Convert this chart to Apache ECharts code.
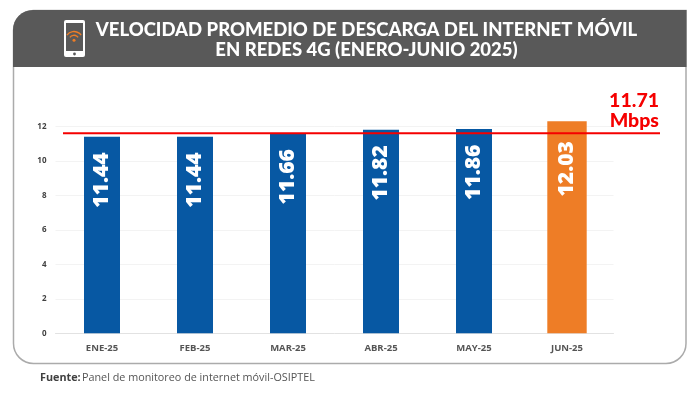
<!DOCTYPE html>
<html><head><meta charset="utf-8">
<style>html,body{margin:0;padding:0;background:#fff}#c{width:700px;height:395px}</style>
<script src="https://cdn.jsdelivr.net/npm/echarts@6/dist/echarts.min.js"></script>
</head><body><div id="c"></div>
<script>
const categories = ['ENE-25','FEB-25','MAR-25','ABR-25','MAY-25','JUN-25'];
const blueValues = [11.41, 11.41, 11.60, 11.82, 11.86, null];
const orangeValues = [null, null, null, null, null, 12.32];
const barLabels = ['11.44','11.44','11.66','11.82','11.86','12.03'];
const averageLevel = [11.62, 11.62];
const averageSpan = [0, 1];
const titleLines = 'VELOCIDAD PROMEDIO DE DESCARGA DEL INTERNET MÓVIL\nEN REDES 4G (ENERO-JUNIO 2025)';
const avgText = '11.71\nMbps';
const sourceBold = 'Fuente:';
const sourceText = 'Panel de monitoreo de internet móvil-OSIPTEL';
const FONT = 'Lato';
const barLabel = d => ({show:true, position:'insideTop', rotate:90, distance:d, align:'right', verticalAlign:'middle',
  color:'#fff', fontSize:21, fontWeight:800, fontFamily:'Open Sans',
  formatter:p=>barLabels[p.dataIndex]});
const chart = echarts.init(document.getElementById('c'), null, {renderer:'canvas'});
chart.setOption({
  animation:false,
  backgroundColor:'#fff',
  textStyle:{fontFamily:FONT},
  grid:[
    {left:55.5, right:86.5, top:126.7, bottom:61.7},
    {left:63, right:40, top:126.7, bottom:61.7}
  ],
  xAxis:[
    {type:'category', gridIndex:0, data:categories,
     axisTick:{show:false}, axisLine:{lineStyle:{color:'#e2e2e2',width:1}},
     axisLabel:{color:'#555',fontSize:9.5,fontWeight:'bold',margin:10,fontFamily:'Open Sans'}},
    {type:'value', gridIndex:1, min:0, max:1, show:false},
    {type:'category', gridIndex:0, data:categories, show:false}
  ],
  yAxis:[
    {type:'value', gridIndex:0, min:0, max:12, interval:2,
     axisLine:{show:false}, axisTick:{show:false},
     splitLine:{lineStyle:{color:'#f3f3f3',width:1}},
     axisLabel:{color:'#404040',fontSize:8,fontWeight:'bold',margin:9,fontFamily:'Open Sans'}},
    {type:'value', gridIndex:1, min:0, max:12, show:false}
  ],
  series:[
    {type:'bar', name:'Azul', xAxisIndex:0, yAxisIndex:0, clip:false, barWidth:36, z:2,
     data:blueValues, itemStyle:{color:'#0758A3'}, label:barLabel(15.5)},
    {type:'bar', name:'Naranja', xAxisIndex:2, yAxisIndex:0, clip:false, barWidth:39.4, z:2,
     data:orangeValues, itemStyle:{color:'#EE7D26'}, label:barLabel(20)},
    {type:'line', xAxisIndex:1, yAxisIndex:1, z:5, symbol:'none', silent:true,
     data:averageSpan.map((x,i)=>[x,averageLevel[i]]),
     lineStyle:{color:'#F50000',width:1.8}}
  ],
  graphic:[
    {type:'rect', z:-10, shape:{x:13.5,y:10.5,width:672.5,height:353,r:[20,0,20,20]},
     style:{fill:'#fff',stroke:'#ababab',lineWidth:1.5}},
    {type:'rect', z:-9, shape:{x:13,y:10,width:673.5,height:57,r:[20,0,0,0]}, style:{fill:'#595959'}},
    {type:'text', z:10, x:366.5, y:40.5, style:{text:titleLines,fill:'#fff',font:'900 18.5px '+FONT,
      align:'center',verticalAlign:'middle',lineHeight:20}},
    {type:'rect', z:10, shape:{x:64,y:20,width:21,height:37,r:2}, style:{fill:'#fff'}},
    {type:'rect', z:11, shape:{x:66,y:23,width:17,height:28}, style:{fill:'#595959'}},
    {type:'circle', z:11, shape:{cx:74.5,cy:54,r:1.4}, style:{fill:'#595959'}},
    {type:'circle', z:12, shape:{cx:74,cy:40.3,r:1.5}, style:{fill:'#EE7D26'}},
    {type:'arc', z:12, shape:{cx:74,cy:40.3,r:5,startAngle:-Math.PI*0.8,endAngle:-Math.PI*0.2}, style:{stroke:'#EE7D26',lineWidth:1.4,fill:null}},
    {type:'arc', z:12, shape:{cx:74,cy:40.3,r:8.8,startAngle:-Math.PI*0.8,endAngle:-Math.PI*0.2}, style:{stroke:'#EE7D26',lineWidth:1.4,fill:null}},
    {type:'text', z:10, x:659, y:110.5, style:{text:avgText,fill:'#F50000',font:'900 19.5px '+FONT,
      align:'right',verticalAlign:'middle',lineHeight:19.5}},
    {type:'text', z:10, x:40, y:377.5, style:{text:sourceBold,fill:'#404040',font:'bold 10.8px "Open Sans"',verticalAlign:'middle'}},
    {type:'text', z:10, x:82, y:377.5, style:{text:sourceText,fill:'#555',font:'10.8px "Open Sans"',verticalAlign:'middle'}}
  ]
});
</script></body></html>
